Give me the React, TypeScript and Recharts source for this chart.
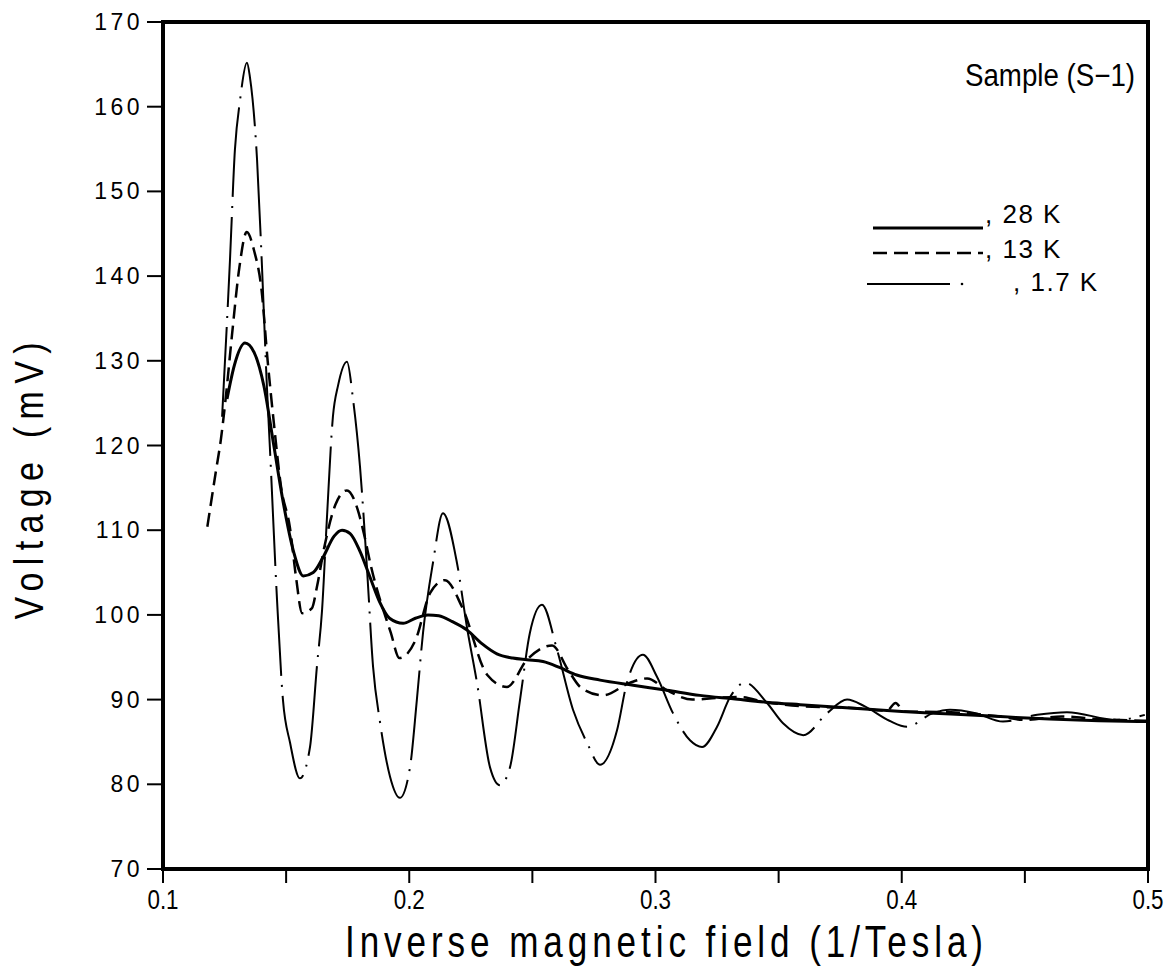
import React from "react";
import { LineChart, Line, XAxis, YAxis } from "recharts";

// 28 K (solid)
const x28 = [
  0.126, 0.129, 0.1333, 0.137, 0.141, 0.145, 0.149, 0.153, 0.157, 0.161, 0.165, 0.1695, 0.1727, 0.176,
  0.18, 0.184, 0.188, 0.192, 0.1975, 0.2025, 0.2076, 0.212, 0.2175, 0.2235, 0.2295, 0.2356, 0.242, 0.2478,
  0.2543, 0.261, 0.268, 0.2775, 0.2909, 0.3047, 0.318, 0.3315, 0.345, 0.3587, 0.379, 0.4, 0.42, 0.44, 0.46,
  0.48, 0.5,
];
const v28 = [
  125.5, 129.5, 132.1, 131, 127, 120, 113, 107.5, 104.6, 105, 106.8, 109.3, 110, 109.6,
  107.5, 104.5, 101.5, 99.6, 99, 99.6, 100, 99.9, 99.2, 98.2, 96.6, 95.4, 94.9, 94.7,
  94.5, 93.8, 92.9, 92.3, 91.7, 91.1, 90.5, 90.1, 89.7, 89.4, 89, 88.6, 88.3, 88, 87.7,
  87.5, 87.4,
];

// 13 K (dashed)
const x13 = [
  0.118, 0.1215, 0.1235, 0.1255, 0.128, 0.131, 0.134, 0.137, 0.14, 0.1425, 0.145, 0.148, 0.1515, 0.154,
  0.1565, 0.1605, 0.1625, 0.1655, 0.17, 0.1747, 0.179, 0.1815, 0.1845, 0.1925, 0.196, 0.2025, 0.2085,
  0.2145, 0.2215, 0.2317, 0.2397, 0.2478, 0.258, 0.2645, 0.2698, 0.2787, 0.2897, 0.2966, 0.3047, 0.315,
  0.3247, 0.334, 0.345, 0.36, 0.38, 0.394, 0.3975, 0.401, 0.42, 0.44, 0.45, 0.465, 0.48, 0.5,
];
const v13 = [
  110.4, 117, 120.7, 125.7, 133, 141, 145.2, 143, 138.4, 130, 122.7, 115, 110.4, 104.5,
  100.2, 100.8, 103.3, 108, 113, 114.7, 112.5, 109.7, 105.7, 97.9, 94.9, 97, 102.6,
  104.1, 100.9, 92.9, 91.5, 94.7, 96.4, 93.5, 91.4, 90.5, 92, 92.5, 91.1, 90,
  90.2, 90.3, 89.7, 89.2, 89, 88.7, 89.6, 88.6, 88.5, 88, 87.6, 88, 87.7, 87.5,
];

// 1.7 K (dash-dot)
const x17 = [
  0.124, 0.1272, 0.1292, 0.1313, 0.1341, 0.1353, 0.1382, 0.1402, 0.1422, 0.1434, 0.1463, 0.1487, 0.1516,
  0.1556, 0.1597, 0.1625, 0.1646, 0.1666, 0.169, 0.1711, 0.1747, 0.1772, 0.18, 0.1828, 0.1853, 0.1881,
  0.1922, 0.1962, 0.2003, 0.2031, 0.2056, 0.2096, 0.2137, 0.2194, 0.2234, 0.2275, 0.2328, 0.2368, 0.2409,
  0.245, 0.249, 0.2539, 0.26, 0.2665, 0.2722, 0.2775, 0.2844, 0.2884, 0.2949, 0.3006, 0.3071, 0.314,
  0.3189, 0.325, 0.3303, 0.3364, 0.3453, 0.3518, 0.36, 0.3697, 0.3778, 0.385, 0.395, 0.4021, 0.4127,
  0.4196, 0.43, 0.4411, 0.455, 0.4671, 0.4874, 0.4987,
];
const v17 = [
  123.4, 141.9, 154.9, 160.8, 165.2, 163.5, 153.7, 141.1, 126.9, 119.8, 101.8, 90, 84.9,
  80.7, 84.4, 93.9, 100.6, 111.6, 123.4, 127.1, 129.9, 125.4, 117.5, 105.7, 93.9, 87.4,
  80.9, 78.4, 82, 90, 97.9, 106.1, 112, 106.1, 98.6, 92, 82, 79.9, 82,
  90, 97.9, 101.2, 95.9, 88.8, 84.9, 82.3, 86.4, 92, 95.3, 92.7, 88.4, 85.2,
  84.4, 86.8, 90.3, 92, 89.6, 87.2, 85.8, 88.4, 90, 89.2, 87.5, 86.8, 88.4,
  88.8, 88.4, 87.4, 88.2, 88.5, 87.6, 88.2,
];

const xTicks = [0.1, 0.15, 0.2, 0.25, 0.3, 0.35, 0.4, 0.45, 0.5];
const xLabels = ["0.1", "", "0.2", "", "0.3", "", "0.4", "", "0.5"];
const yTicks = [70, 80, 90, 100, 110, 120, 130, 140, 150, 160, 170];

const zip = (xs: number[], vs: number[]) => xs.map((x, i) => ({ x, v: vs[i] }));

const FONT = "'Liberation Sans', Arial, sans-serif";

const YTick = ({ x, y, payload }: any) => (
  <text x={x} y={y} textAnchor="end" dominantBaseline="central" fontFamily={FONT} fontSize={23} letterSpacing={3.5} fill="#000">
    {payload.value}
  </text>
);

// narrow glyphs: squeeze horizontally
const XTick = ({ x, y, payload }: any) => {
  const i = xTicks.indexOf(payload.value);
  const label = i >= 0 ? xLabels[i] : "";
  if (!label) return null;
  return (
    <g transform={`translate(${x},${y + 24}) scale(0.8,1)`}>
      <text x={0} y={0} textAnchor="middle" fontFamily={FONT} fontSize={28} fill="#000">
        {label}
      </text>
    </g>
  );
};

const App = () => {
  return (
    <div style={{ position: "fixed", left: 0, top: 0, width: 1171, height: 967, background: "#fff" }}>
      <LineChart width={1171} height={967} margin={{ top: 22, right: 23, left: 63, bottom: 38 }}>
        <XAxis
          dataKey="x"
          type="number"
          domain={[0.1, 0.5]}
          ticks={xTicks}
          allowDataOverflow
          height={60}
          tickSize={14}
          axisLine={false}
          tickLine={{ stroke: "#000", strokeWidth: 2 }}
          tick={<XTick />}
        />
        <YAxis
          type="number"
          domain={[70, 170]}
          ticks={yTicks}
          allowDataOverflow
          width={100}
          tickSize={16}
          tickMargin={4}
          axisLine={false}
          tickLine={{ stroke: "#000", strokeWidth: 2 }}
          tick={<YTick />}
        />
        <Line data={zip(x28, v28)} dataKey="v" type="monotone" stroke="#000" strokeWidth={3} dot={false} activeDot={false} isAnimationActive={false} />
        <Line data={zip(x13, v13)} dataKey="v" type="monotone" stroke="#000" strokeWidth={2.5} strokeDasharray="14 7" dot={false} activeDot={false} isAnimationActive={false} />
        <Line data={zip(x17, v17)} dataKey="v" type="monotone" stroke="#000" strokeWidth={2} strokeDasharray="90 9 2 9" dot={false} activeDot={false} isAnimationActive={false} />
      </LineChart>
      <svg width={1171} height={967} style={{ position: "absolute", left: 0, top: 0, pointerEvents: "none" }}>
        {/* plot frame */}
        <rect x={163} y={22} width={985} height={847} fill="none" stroke="#000" strokeWidth={4} />
        <g transform="translate(43,481) rotate(-90) scale(0.85,1)">
          <text x={0} y={0} textAnchor="middle" fontFamily={FONT} fontSize={40} textLength={326} lengthAdjust="spacing" fill="#000">
            Voltage (mV)
          </text>
        </g>
        <g transform="translate(345,957) scale(0.78,1)">
          <text x={0} y={0} fontFamily={FONT} fontSize={45} textLength={818} lengthAdjust="spacing" fill="#000">
            Inverse magnetic field (1/Tesla)
          </text>
        </g>
        <text x={965} y={86} fontFamily={FONT} fontSize={31} textLength={170} lengthAdjust="spacingAndGlyphs" fill="#000">
          Sample (S−1)
        </text>
        <line x1={873} y1={228} x2={983} y2={228} stroke="#000" strokeWidth={3} />
        <text x={985} y={223} fontFamily={FONT} fontSize={26} letterSpacing={1.5} fill="#000">
          , 28 K
        </text>
        <line x1={873} y1={253} x2={983} y2={253} stroke="#000" strokeWidth={2.5} strokeDasharray="14 7" />
        <text x={985} y={258} fontFamily={FONT} fontSize={26} letterSpacing={1.5} fill="#000">
          , 13 K
        </text>
        <line x1={867} y1={284} x2={950} y2={284} stroke="#000" strokeWidth={2} />
        <circle cx={962} cy={284} r={1.3} fill="#000" />
        <text x={1013} y={291} fontFamily={FONT} fontSize={26} letterSpacing={1.5} fill="#000">
          , 1.7 K
        </text>
      </svg>
    </div>
  );
};

export default App;
